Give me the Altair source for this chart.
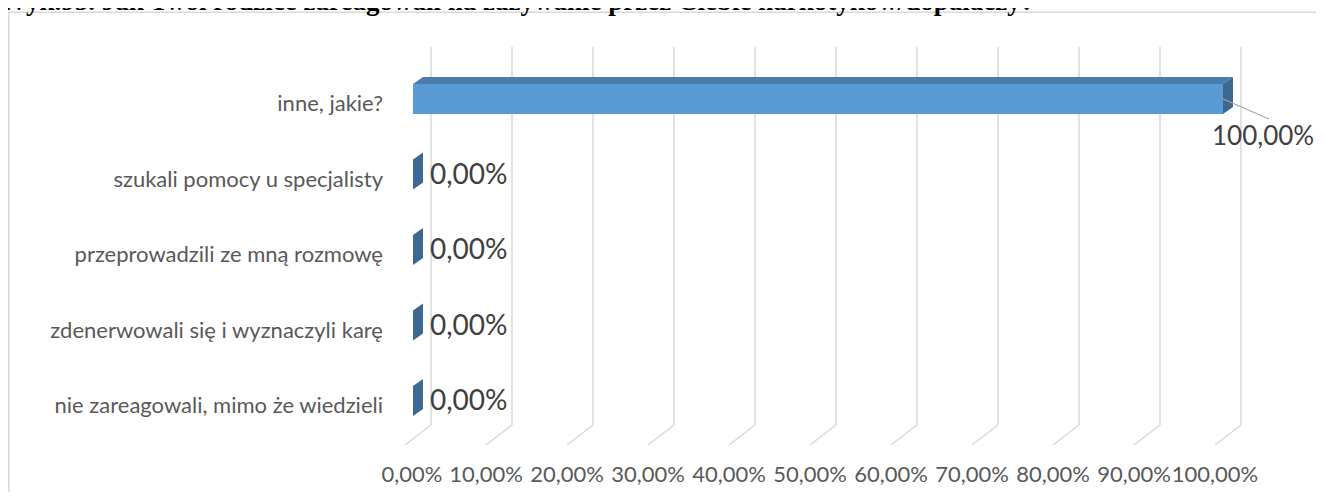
import altair as alt
import pandas as pd

# ---------------- data ----------------
TITLE = "Wyk.95. Jak Twoi rodzice zareagowali na zażywanie przez Ciebie narkotyków/dopalaczy?"
CATEGORIES = [
    "inne, jakie?",
    "szukali pomocy u specjalisty",
    "przeprowadzili ze mną rozmowę",
    "zdenerwowali się i wyznaczyli karę",
    "nie zareagowali, mimo że wiedzieli",
]
VALUES = [100.0, 0.0, 0.0, 0.0, 0.0]
TICK_VALUES = [0, 10, 20, 30, 40, 50, 60, 70, 80, 90, 100]
TICK_LABELS = ["0,00%", "10,00%", "20,00%", "30,00%", "40,00%", "50,00%",
               "60,00%", "70,00%", "80,00%", "90,00%", "100,00%"]

# ---------------- layout / style ----------------
W, H = 1308, 484
X_DOMAIN = [0, 100]
X_RANGE = [397, 1207]          # front edge of the floor
Y_DOMAIN = [0, len(CATEGORIES) - 1]
Y_RANGE = [91, 393]
K = (X_RANGE[1] - X_RANGE[0]) / (X_DOMAIN[1] - X_DOMAIN[0])
M = (Y_RANGE[1] - Y_RANGE[0]) / (Y_DOMAIN[1] - Y_DOMAIN[0])

BAR_DX, DEPTH_DX, DEPTH_DY, HALF = 8, 10, 7, 15
WALL_DX, WALL_TOP, WALL_BOTTOM, FLOOR_DY = 26, 39, 417, 20

FRONT, TOP, SIDE = "#5b9bd5", "#4a7cae", "#3d6891"
GRID = "#d9d9d9"
TXT = "#595959"
LBL = "#404040"
FONT = "Lato"

xs = alt.Scale(domain=X_DOMAIN, range=X_RANGE, nice=False, zero=False)
ys = alt.Scale(domain=Y_DOMAIN, range=Y_RANGE, nice=False, zero=False)


def fmt_pct(v):
    return f"{v:.2f}".replace(".", ",") + "%"


cat_df = pd.DataFrame({"cat": CATEGORIES, "v": VALUES, "idx": list(range(len(CATEGORIES)))})
cat_df["lab"] = [fmt_pct(v) for v in VALUES]
tick_df = pd.DataFrame({"p": TICK_VALUES, "label": TICK_LABELS})

# polygons of the 3D bars (value units + depth converted from pixels)
rows = []
for i, v in enumerate(VALUES):
    def px(val, d):
        return val + d / K

    def py(d):
        return i + d / M

    faces = {
        "front": [(px(0, BAR_DX), py(-HALF)), (px(v, BAR_DX), py(-HALF)),
                  (px(v, BAR_DX), py(HALF)), (px(0, BAR_DX), py(HALF))],
        "top": [(px(0, BAR_DX), py(-HALF)), (px(0, BAR_DX + DEPTH_DX), py(-HALF - DEPTH_DY)),
                (px(v, BAR_DX + DEPTH_DX), py(-HALF - DEPTH_DY)), (px(v, BAR_DX), py(-HALF))],
        "side": [(px(v, BAR_DX), py(-HALF)), (px(v, BAR_DX + DEPTH_DX), py(-HALF - DEPTH_DY)),
                 (px(v, BAR_DX + DEPTH_DX), py(HALF - DEPTH_DY)), (px(v, BAR_DX), py(HALF))],
    }
    for f, pts in faces.items():
        for k, (x, y) in enumerate(pts):
            rows.append({"face": f, "fid": f"{i}-{f}", "k": k, "x": x, "y": y})
poly_df = pd.DataFrame(rows)

one = pd.DataFrame({"t": [TITLE]})

# ---------------- layers ----------------
frame_top = alt.Chart(one).mark_rule(color=GRID, strokeWidth=1.5).encode(
    x=alt.value(0), x2=alt.value(W), y=alt.value(4.25))
frame_left = alt.Chart(one).mark_rule(color=GRID, strokeWidth=1.5).encode(
    x=alt.value(0.75), y=alt.value(4), y2=alt.value(H))

title = alt.Chart(one).mark_text(
    font="Liberation Serif", fontWeight="bold", fontSize=27, align="left",
    baseline="alphabetic", color="#000000").encode(
    x=alt.value(-8), y=alt.value(2), text="t:N")

grid = alt.Chart(tick_df).mark_rule(color=GRID, strokeWidth=1.5, xOffset=WALL_DX).encode(
    x=alt.X("p:Q", scale=xs, axis=None), y=alt.value(WALL_TOP), y2=alt.value(WALL_BOTTOM))
floor = alt.Chart(tick_df).mark_rule(color=GRID, strokeWidth=1.5, xOffset=WALL_DX, x2Offset=0).encode(
    x=alt.X("p:Q", scale=xs, axis=None), x2="p:Q",
    y=alt.value(WALL_BOTTOM), y2=alt.value(WALL_BOTTOM + FLOOR_DY))

first_tick = tick_df[tick_df["p"] == min(TICK_VALUES)]
other_ticks = tick_df[tick_df["p"] != min(TICK_VALUES)]
ticks = alt.Chart(other_ticks).mark_text(
    font=FONT, fontSize=22, color=TXT, align="center", baseline="middle").encode(
    x=alt.X("p:Q", scale=xs, axis=None), y=alt.value(467), text="label:N")
tick0 = alt.Chart(first_tick).mark_text(
    font=FONT, fontSize=22, color=TXT, align="center", baseline="middle", dx=7).encode(
    x=alt.X("p:Q", scale=xs, axis=None), y=alt.value(467), text="label:N")

cats = alt.Chart(cat_df).mark_text(
    font=FONT, fontSize=22, color=TXT, align="right", baseline="middle", dy=5).encode(
    x=alt.value(375), y=alt.Y("idx:Q", scale=ys, axis=None), text="cat:N")

bars = alt.Chart(poly_df).mark_line(filled=True).encode(
    x=alt.X("x:Q", scale=xs, axis=None),
    y=alt.Y("y:Q", scale=ys, axis=None),
    color=alt.Color("face:N", scale=alt.Scale(domain=["top", "front", "side"],
                                              range=[TOP, FRONT, SIDE]), legend=None),
    detail="fid:N",
    order="k:Q",
)

near = cat_df[cat_df["v"] < 90]
far = cat_df[cat_df["v"] >= 90]

labels_near = alt.Chart(near).mark_text(
    font=FONT, fontSize=28, color=LBL, align="left", baseline="middle",
    dx=BAR_DX + DEPTH_DX + 7, dy=1).encode(
    x=alt.X("v:Q", scale=xs, axis=None), y=alt.Y("idx:Q", scale=ys, axis=None), text="lab:N")
labels_far = alt.Chart(far).mark_text(
    font=FONT, fontSize=26, color=LBL, align="left", baseline="middle", dx=-3, dy=37.5).encode(
    x=alt.X("v:Q", scale=xs, axis=None), y=alt.Y("idx:Q", scale=ys, axis=None), text="lab:N")
leader = alt.Chart(far).mark_rule(color="#a6a6a6", strokeWidth=1.2,
                                  xOffset=BAR_DX, x2Offset=54, yOffset=0, y2Offset=20).encode(
    x=alt.X("v:Q", scale=xs, axis=None), x2="v:Q",
    y=alt.Y("idx:Q", scale=ys, axis=None), y2="idx:Q")

chart = alt.layer(
    frame_top, frame_left, title, grid, floor, ticks, tick0, cats, bars, leader,
    labels_near, labels_far
).properties(
    width=W, height=H, padding=0,
    autosize=alt.AutoSizeParams(type="none"),
    background="#ffffff",
).configure_view(stroke=None)

chart.save("out.html", embed_options={"renderer": "svg", "actions": False})
